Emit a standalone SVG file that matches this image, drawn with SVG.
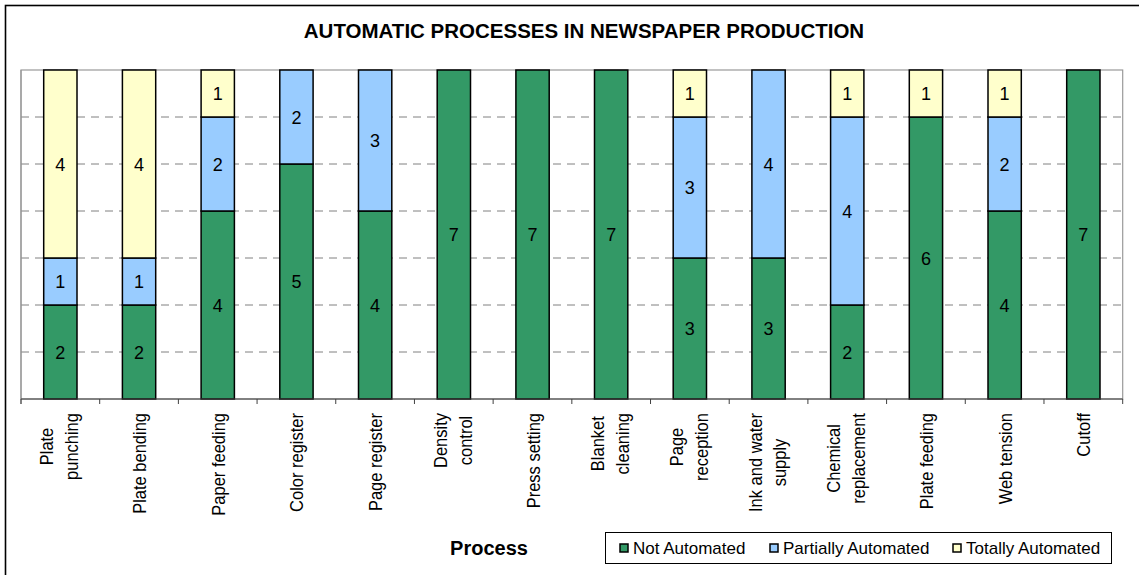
<svg xmlns="http://www.w3.org/2000/svg" width="1139" height="575" viewBox="0 0 1139 575">
<style>
text{font-family:"Liberation Sans",Arial,sans-serif;fill:#000}
.title{font-size:20.5px;font-weight:bold}
.axt{font-size:20px;font-weight:bold}
.num{font-size:18px;text-anchor:middle}
.cat{font-size:16.5px}
.leg{font-size:17px}
.g{fill:#339966;stroke:#000;stroke-width:1.5}
.b{fill:#99CCFF;stroke:#000;stroke-width:1.5}
.y{fill:#FFFFCC;stroke:#000;stroke-width:1.5}
.grid{stroke:#808080;stroke-width:1;stroke-dasharray:8,6}
.tick{stroke:#404040;stroke-width:1}
</style>
<rect x="0" y="0" width="1139" height="575" fill="#fff"/>
<rect x="5.5" y="5.5" width="1140" height="600" fill="none" stroke="#000" stroke-width="1.6"/>
<text class="title" x="584" y="38" text-anchor="middle">AUTOMATIC PROCESSES IN NEWSPAPER PRODUCTION</text>
<g id="plot-area">
<rect x="21" y="70" width="1101.7" height="329" fill="#fff" stroke="#999" stroke-width="1.2"/>
<g id="gridlines">
<line class="grid" x1="21" y1="117" x2="1122.7" y2="117"/>
<line class="grid" x1="21" y1="164" x2="1122.7" y2="164"/>
<line class="grid" x1="21" y1="211" x2="1122.7" y2="211"/>
<line class="grid" x1="21" y1="258" x2="1122.7" y2="258"/>
<line class="grid" x1="21" y1="305" x2="1122.7" y2="305"/>
<line class="grid" x1="21" y1="352" x2="1122.7" y2="352"/>
</g>
</g>
<g id="bar-plate-punching">
<rect class="g" x="43.7" y="305" width="33.3" height="94"/><rect class="b" x="43.7" y="258" width="33.3" height="47"/><rect class="y" x="43.7" y="70" width="33.3" height="188"/>
<text class="num" x="60.35" y="358.5">2</text><text class="num" x="60.35" y="288">1</text><text class="num" x="60.35" y="170.5">4</text>
</g>
<g id="bar-plate-bending">
<rect class="g" x="122.4" y="305" width="33.3" height="94"/><rect class="b" x="122.4" y="258" width="33.3" height="47"/><rect class="y" x="122.4" y="70" width="33.3" height="188"/>
<text class="num" x="139.04" y="358.5">2</text><text class="num" x="139.04" y="288">1</text><text class="num" x="139.04" y="170.5">4</text>
</g>
<g id="bar-paper-feeding">
<rect class="g" x="201.1" y="211" width="33.3" height="188"/><rect class="b" x="201.1" y="117" width="33.3" height="94"/><rect class="y" x="201.1" y="70" width="33.3" height="47"/>
<text class="num" x="217.73" y="311.5">4</text><text class="num" x="217.73" y="170.5">2</text><text class="num" x="217.73" y="100">1</text>
</g>
<g id="bar-color-register">
<rect class="g" x="279.8" y="164" width="33.3" height="235"/><rect class="b" x="279.8" y="70" width="33.3" height="94"/>
<text class="num" x="296.42" y="288">5</text><text class="num" x="296.42" y="123.5">2</text>
</g>
<g id="bar-page-register">
<rect class="g" x="358.5" y="211" width="33.3" height="188"/><rect class="b" x="358.5" y="70" width="33.3" height="141"/>
<text class="num" x="375.11" y="311.5">4</text><text class="num" x="375.11" y="147">3</text>
</g>
<g id="bar-density-control">
<rect class="g" x="437.2" y="70" width="33.3" height="329"/>
<text class="num" x="453.8" y="241">7</text>
</g>
<g id="bar-press-setting">
<rect class="g" x="515.9" y="70" width="33.3" height="329"/>
<text class="num" x="532.49" y="241">7</text>
</g>
<g id="bar-blanket-cleaning">
<rect class="g" x="594.5" y="70" width="33.3" height="329"/>
<text class="num" x="611.18" y="241">7</text>
</g>
<g id="bar-page-reception">
<rect class="g" x="673.2" y="258" width="33.3" height="141"/><rect class="b" x="673.2" y="117" width="33.3" height="141"/><rect class="y" x="673.2" y="70" width="33.3" height="47"/>
<text class="num" x="689.87" y="335">3</text><text class="num" x="689.87" y="194">3</text><text class="num" x="689.87" y="100">1</text>
</g>
<g id="bar-ink-water-supply">
<rect class="g" x="751.9" y="258" width="33.3" height="141"/><rect class="b" x="751.9" y="70" width="33.3" height="188"/>
<text class="num" x="768.56" y="335">3</text><text class="num" x="768.56" y="170.5">4</text>
</g>
<g id="bar-chemical-replacement">
<rect class="g" x="830.6" y="305" width="33.3" height="94"/><rect class="b" x="830.6" y="117" width="33.3" height="188"/><rect class="y" x="830.6" y="70" width="33.3" height="47"/>
<text class="num" x="847.25" y="358.5">2</text><text class="num" x="847.25" y="217.5">4</text><text class="num" x="847.25" y="100">1</text>
</g>
<g id="bar-plate-feeding">
<rect class="g" x="909.3" y="117" width="33.3" height="282"/><rect class="y" x="909.3" y="70" width="33.3" height="47"/>
<text class="num" x="925.94" y="264.5">6</text><text class="num" x="925.94" y="100">1</text>
</g>
<g id="bar-web-tension">
<rect class="g" x="988" y="211" width="33.3" height="188"/><rect class="b" x="988" y="117" width="33.3" height="94"/><rect class="y" x="988" y="70" width="33.3" height="47"/>
<text class="num" x="1004.63" y="311.5">4</text><text class="num" x="1004.63" y="170.5">2</text><text class="num" x="1004.63" y="100">1</text>
</g>
<g id="bar-cutoff">
<rect class="g" x="1066.7" y="70" width="33.3" height="329"/>
<text class="num" x="1083.32" y="241">7</text>
</g>
<g id="axis">
<line x1="21" y1="70" x2="21" y2="404" stroke="#999" stroke-width="1.2"/>
<line x1="21" y1="399" x2="1122.7" y2="399" stroke="#404040" stroke-width="1.2"/>
<g class="tick">
<line x1="21" y1="399" x2="21" y2="404"/><line x1="99.69" y1="399" x2="99.69" y2="404"/><line x1="178.38" y1="399" x2="178.38" y2="404"/><line x1="257.07" y1="399" x2="257.07" y2="404"/><line x1="335.76" y1="399" x2="335.76" y2="404"/><line x1="414.45" y1="399" x2="414.45" y2="404"/><line x1="493.14" y1="399" x2="493.14" y2="404"/><line x1="571.83" y1="399" x2="571.83" y2="404"/><line x1="650.52" y1="399" x2="650.52" y2="404"/><line x1="729.21" y1="399" x2="729.21" y2="404"/><line x1="807.9" y1="399" x2="807.9" y2="404"/><line x1="886.59" y1="399" x2="886.59" y2="404"/><line x1="965.28" y1="399" x2="965.28" y2="404"/><line x1="1043.97" y1="399" x2="1043.97" y2="404"/><line x1="1122.7" y1="399" x2="1122.7" y2="404"/>
</g>
</g>
<g id="category-labels" class="cat">
<g transform="translate(60.35,446.5) scale(1.12,1) rotate(-90)" text-anchor="middle"><text x="0" y="-6.3">Plate</text><text x="0" y="16">punching</text></g>
<text transform="translate(146,413) scale(1.12,1) rotate(-90)" text-anchor="end">Plate bending</text>
<text transform="translate(224.7,413) scale(1.12,1) rotate(-90)" text-anchor="end">Paper feeding</text>
<text transform="translate(303.4,413) scale(1.12,1) rotate(-90)" text-anchor="end">Color register</text>
<text transform="translate(382.1,413) scale(1.12,1) rotate(-90)" text-anchor="end">Page register</text>
<g transform="translate(453.8,440.5) scale(1.12,1) rotate(-90)" text-anchor="middle"><text x="0" y="-6.3">Density</text><text x="0" y="16">control</text></g>
<text transform="translate(539.5,413) scale(1.12,1) rotate(-90)" text-anchor="end">Press setting</text>
<g transform="translate(611.18,443.7) scale(1.12,1) rotate(-90)" text-anchor="middle"><text x="0" y="-6.3">Blanket</text><text x="0" y="16">cleaning</text></g>
<g transform="translate(689.87,447) scale(1.12,1) rotate(-90)" text-anchor="middle"><text x="0" y="-6.3">Page</text><text x="0" y="16">reception</text></g>
<g transform="translate(768.56,462.5) scale(1.12,1) rotate(-90)" text-anchor="middle"><text x="0" y="-6.3">Ink and water</text><text x="0" y="16">supply</text></g>
<g transform="translate(847.25,458.4) scale(1.12,1) rotate(-90)" text-anchor="middle"><text x="0" y="-6.3">Chemical</text><text x="0" y="16">replacement</text></g>
<text transform="translate(932.9,413) scale(1.12,1) rotate(-90)" text-anchor="end">Plate feeding</text>
<text transform="translate(1011.6,413) scale(1.12,1) rotate(-90)" text-anchor="end">Web tension</text>
<text transform="translate(1090.3,413) scale(1.12,1) rotate(-90)" text-anchor="end">Cutoff</text>
</g>
<text class="axt" x="489" y="555" text-anchor="middle">Process</text>
<g id="legend">
<rect x="605.5" y="532.5" width="506" height="31" fill="#fff" stroke="#000" stroke-width="1"/>
<rect class="g" x="620" y="544" width="8" height="8" stroke-width="1"/>
<text class="leg" x="633" y="554">Not Automated</text>
<rect class="b" x="770" y="544" width="8" height="8" stroke-width="1"/>
<text class="leg" x="783" y="554">Partially Automated</text>
<rect class="y" x="953" y="544" width="8" height="8" stroke-width="1"/>
<text class="leg" x="966" y="554">Totally Automated</text>
</g>
</svg>
